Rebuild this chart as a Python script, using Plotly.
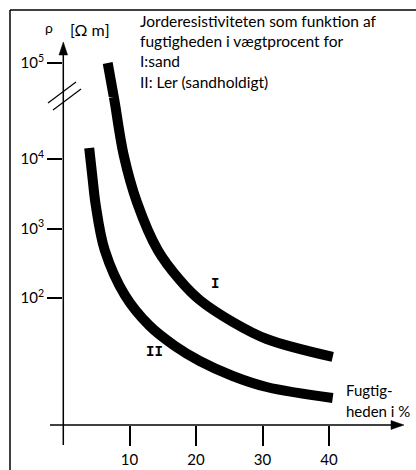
import math
import plotly.graph_objects as go

# ---------------- data ----------------
moisture_I = [6.72, 7.64, 7.85, 9.13, 11.16, 14.24, 17.6, 20.56, 25.52, 30.63, 40.56]
resist_I = [1.0e5, 7.80e4, 5.98e4, 1.14e4, 2330, 491, 180, 93.6, 45.2, 25.7, 14.2]
moisture_II = [3.94, 4.47, 4.92, 6.27, 9.3, 13.0, 16.8, 20.56, 25.52, 30.63, 40.56]
resist_II = [1.44e4, 4990, 2180, 491, 110, 40, 20.5, 12.4, 7.55, 5.24, 3.64]

x_ticks = [10, 20, 30, 40]
x_tick_labels = ["10", "20", "30", "40"]
y_ticks_low = [1e2, 1e3, 1e4]
y_tick_labels_low = ["10<sup>2</sup>", "10<sup>3</sup>", "10<sup>4</sup>"]
y_ticks_high = [1e5]
y_tick_labels_high = ["10<sup>5</sup>"]

title_lines = ["Jorderesistiviteten som funktion af",
               "fugtigheden i vægtprocent for",
               "I:sand",
               "II: Ler (sandholdigt)"]
x_title_lines = ["Fugtig-", "heden i %"]
curve_labels = ["I", "II"]
curve_label_x = [22.8, 13.8]
curve_label_y = [159, 16.7]

# ---------------- geometry ----------------
W, H = 416, 470
ML, MR, MT, MB = 63, 13, 40, 45
PW, PH = W - ML - MR, H - MT - MB
BREAK_PX = 97          # pixel row of the axis break


def px(xp):
    return (xp - ML) / PW


def py(yp):
    return (H - MB - yp) / PH


FONT = "Lato"
INK = "#000000"
split = py(BREAK_PX)

fig = go.Figure()

# lower (continuous) part of the log axis
fig.add_trace(go.Scatter(x=moisture_I[1:], y=resist_I[1:], mode="lines", xaxis="x", yaxis="y",
                         line=dict(color=INK, width=10, shape="spline", smoothing=1.0),
                         hoverinfo="skip", showlegend=False))
fig.add_trace(go.Scatter(x=moisture_II, y=resist_II, mode="lines", xaxis="x", yaxis="y",
                         line=dict(color=INK, width=10, shape="spline", smoothing=1.0),
                         hoverinfo="skip", showlegend=False))
# upper part (above the break)
fig.add_trace(go.Scatter(x=moisture_I[:3], y=resist_I[:3], mode="lines", xaxis="x", yaxis="y2",
                         line=dict(color=INK, width=10),
                         hoverinfo="skip", showlegend=False))

axis_common = dict(showgrid=False, zeroline=False, showline=False, automargin=False,
                   ticks="outside", tickwidth=1.5, tickcolor=INK, tickfont=dict(size=15))
fig.update_layout(
    width=W, height=H,
    margin=dict(l=ML, r=MR, t=MT, b=MB, pad=0, autoexpand=False),
    paper_bgcolor="white", plot_bgcolor="white",
    font=dict(family=FONT, size=15, color=INK),
    xaxis=dict(range=[0, PW / 6.65], tickvals=x_ticks, ticktext=x_tick_labels,
               ticklen=20, anchor="y", ticklabelstandoff=1, **axis_common),
    yaxis=dict(type="log", domain=[0, split], range=[0.1727, 4.892],
               tickvals=y_ticks_low, ticktext=y_tick_labels_low, ticklen=15, **axis_common),
    yaxis2=dict(type="log", domain=[split, 1], range=[4.892, 5.0731], anchor="x",
                tickvals=y_ticks_high, ticktext=y_tick_labels_high, ticklen=15, **axis_common),
)


def seg(x0, y0, x1, y1, w=1.5):
    return dict(type="line", xref="paper", yref="paper", x0=px(x0), x1=px(x1),
                y0=py(y0), y1=py(y1), line=dict(color=INK, width=w))


def tri(points):
    d = "M " + " L ".join("%f,%f" % (px(a), py(b)) for a, b in points) + " Z"
    return dict(type="path", xref="paper", yref="paper", path=d,
                fillcolor=INK, line=dict(color=INK, width=0.5))


shapes = [
    seg(10, 10, 416, 10),            # frame top
    seg(10, 10, 10, 470),            # frame left
    seg(63.3, 445, 63.3, 52),        # y axis
    seg(50, 425, 394, 425),          # x axis
    tri([(63.3, 42), (59, 55), (67.6, 55)]),
    tri([(404, 425), (391, 420.5), (391, 429.5)]),
    seg(48, 103, 76, 82, 1.2),       # axis break marks
    seg(53, 110, 81, 89, 1.2),
]
fig.update_layout(shapes=shapes)

annos = [
    dict(xref="paper", yref="paper", x=px(49), y=py(28), text="ρ", showarrow=False,
         font=dict(size=14), xanchor="center", yanchor="middle"),
    dict(xref="paper", yref="paper", x=px(68), y=py(30), text="[Ω m]", showarrow=False,
         font=dict(size=16), xanchor="left", yanchor="middle"),
]
for i, t in enumerate(title_lines):
    annos.append(dict(xref="paper", yref="paper", x=px(138), y=py(20.5 + 20.5 * i), text=t,
                      showarrow=False, xanchor="left", yanchor="middle", font=dict(size=15.5)))
for i, t in enumerate(x_title_lines):
    annos.append(dict(xref="paper", yref="paper", x=px(344), y=py(390 + 21 * i), text=t,
                      showarrow=False, xanchor="left", yanchor="middle", font=dict(size=15)))
for t, lx, ly in zip(curve_labels, curve_label_x, curve_label_y):
    # annotations on a log axis take log10 coordinates
    annos.append(dict(xref="x", yref="y", x=lx, y=math.log10(ly), text="<b>%s</b>" % t,
                      showarrow=False, xanchor="center", yanchor="middle",
                      font=dict(family="Liberation Mono", size=14)))
fig.update_layout(annotations=annos)

fig.write_html("out.html", config={"displayModeBar": False},
               post_script="document.body.style.margin='0';document.body.style.overflow='hidden';")
